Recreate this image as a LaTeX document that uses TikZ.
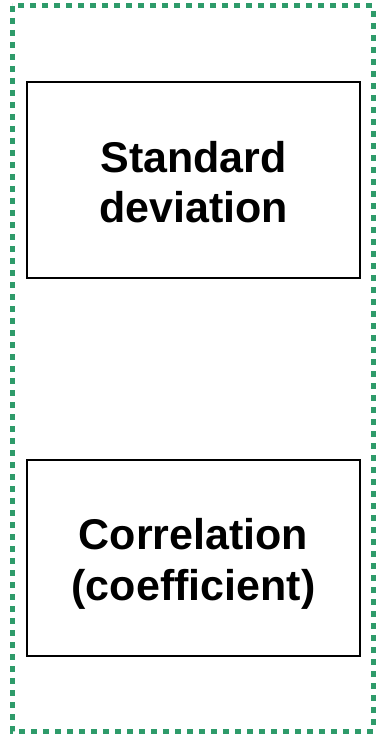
\documentclass[tikz,border=0pt]{standalone}
\usepackage{fontspec}
\setmainfont{Liberation Sans}
\definecolor{frame}{RGB}{46,155,106}
\begin{document}
\begin{tikzpicture}[x=1pt,y=-1pt,
  box/.style={draw=black,line width=2pt,minimum width=333pt,minimum height=196pt,inner sep=0pt},
  lbl/.style={inner sep=0pt,align=center,font=\fontsize{43}{50.5}\selectfont\bfseries},
  outer/.style={draw=frame,line width=5pt,dash pattern=on 6pt off 6pt}]
\useasboundingbox (0,0) rectangle (376,735);
\draw[outer] (12,6) rectangle (373,731);
\node[box] (sd) at (193.5,180) {};
\node[box] (corr) at (193.5,558) {};
\node[lbl] (sdt) at ([yshift=-2pt]sd.center) {Standard\\deviation};
\node[lbl] (corrt) at ([yshift=-6pt]corr.center) {Correlation\\(coefficient)};
\end{tikzpicture}
\end{document}
